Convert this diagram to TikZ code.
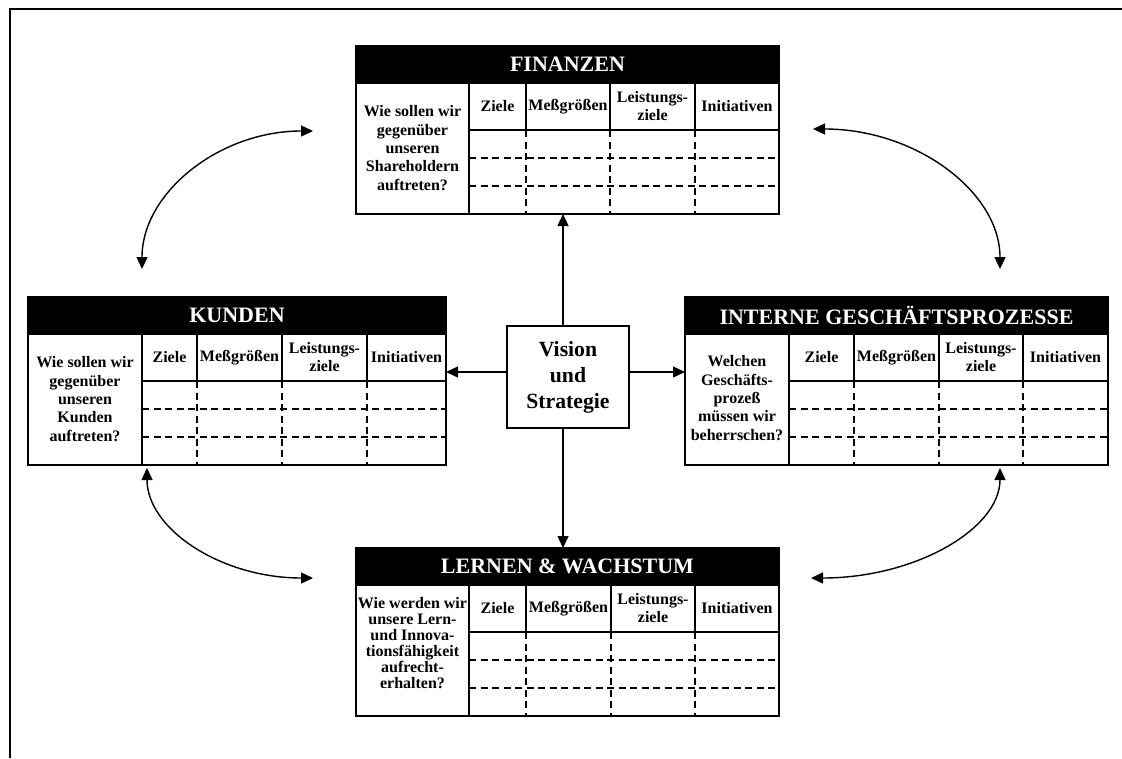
\documentclass[tikz,border=0pt]{standalone}
\usepackage{fontspec}
\setmainfont{Liberation Serif}
\usetikzlibrary{arrows.meta}

\tikzset{
  boxframe/.style={draw, line width=2pt, inner sep=0pt, outer sep=0pt},
  headbox/.style={fill=black, draw=black, line width=2pt, inner sep=0pt, outer sep=0pt,
    text=white, font=\fontsize{22}{24}\selectfont\bfseries},
  cell/.style={line width=1.4pt},
  dcell/.style={line width=1.3pt, dash pattern=on 7pt off 4.5pt},
  colhead/.style={align=center, inner sep=0pt, font=\fontsize{16}{18}\selectfont\bfseries},
  question/.style={align=center, inner sep=0pt, font=\fontsize{16}{18.3}\selectfont\bfseries},
  link/.style={line width=1.4pt, -{Triangle[length=12pt,width=11pt]}},
  swing/.style={line width=1.4pt, {Triangle[length=12pt,width=11pt]}-{Triangle[length=12pt,width=11pt]}},
}

% #1 name, #2 left, #3 top, #4 question column edge,
% #5-#7 column separators, #8 right, #9 title
\newcommand\bscbox[9]{%
  \node[boxframe, minimum width={#8-#2}, minimum height=168, anchor=north west] (#1) at (#2,#3) {};
  \node[headbox, minimum width={#8-#2}, minimum height=37, anchor=north west] (#1-head) at (#2,#3) {#9};
  \draw[cell] (#4,{#3+37}) -- (#4,{#3+168});
  \draw[cell] (#4,{#3+84}) -- (#8,{#3+84});
  \foreach \c in {#5,#6,#7} {
    \draw[cell] (\c,{#3+37}) -- (\c,{#3+84});
    \draw[dcell] (\c,{#3+84}) -- (\c,{#3+168});
  }
  \draw[dcell] (#4,{#3+112}) -- (#8,{#3+112});
  \draw[dcell] (#4,{#3+140}) -- (#8,{#3+140});
  \node[colhead] (#1-ziele) at ({(#4+#5)/2},{#3+60.5}) {Ziele};
  \node[colhead] (#1-mess) at ({(#5+#6)/2},{#3+60.5}) {Meßgrößen};
  \node[colhead] (#1-leist) at ({(#6+#7)/2},{#3+60.5}) {Leistungs-\\ziele};
  \node[colhead] (#1-init) at ({(#7+#8)/2},{#3+60.5}) {Initiativen};
}

\begin{document}
\begin{tikzpicture}[x=1pt, y=-1pt]
  \fill[white] (0,0) rectangle (1122,758);
  \useasboundingbox (0,0) rectangle (1122,758);

  % page frame
  \draw[line width=2pt] (9.5,758) -- (9.5,9) -- (1122,9);

  % the four perspectives
  \bscbox{fin}{356}{46}{469}{526}{610}{695}{779}{FINANZEN}
  \node[question] (fin-q) at (412.5,148) {Wie sollen wir\\gegenüber\\unseren\\Shareholdern\\auftreten?};

  \bscbox{kun}{28}{297}{142}{197}{282}{367}{446}{KUNDEN}
  \node[question] (kun-q) at (85,399) {Wie sollen wir\\gegenüber\\unseren\\Kunden\\auftreten?};

  \bscbox{int}{685}{297}{789}{854}{939}{1023}{1108}{INTERNE GESCHÄFTSPROZESSE}
  \node[question] (int-q) at (737,398) {Welchen\\Geschäfts-\\prozeß\\müssen wir\\beherrschen?};

  \bscbox{ler}{356}{548}{469}{526}{611}{695}{779}{LERNEN \& WACHSTUM}
  \node[question, font=\fontsize{16}{16.1}\selectfont\bfseries] (ler-q) at (412.5,643)
    {Wie werden wir\\unsere Lern-\\und Innova-\\tionsfähigkeit\\aufrecht-\\erhalten?};

  % centre
  \node[boxframe, minimum width=122, minimum height=102, align=center,
        font=\fontsize{21.7}{26}\selectfont\bfseries] (vis) at (568,377) {Vision\\und\\Strategie};

  \coordinate (vx) at (563,0);
  \coordinate (hy) at (0,372);
  \draw[link] (vis.north -| vx) -- (fin.south -| vx);
  \draw[link] (vis.south -| vx) -- (ler.north -| vx);
  \draw[link] (vis.west |- hy) -- (kun.east |- hy);
  \draw[link] (vis.east |- hy) -- (int.west |- hy);

  % curved links between neighbouring perspectives
  \coordinate (tl1) at (142,269);
  \coordinate (tl2) at (313,131);
  \draw[swing] (tl1) .. controls (142,193) and (219,131) .. (tl2);

  \coordinate (tr1) at (813,129);
  \coordinate (tr2) at (1000,269);
  \draw[swing] (tr1) .. controls (916,129) and (1000,192) .. (tr2);

  \coordinate (bl1) at (147,468);
  \coordinate (bl2) at (313,578);
  \draw[swing] (bl1) .. controls (147,529) and (221,578) .. (bl2);

  \coordinate (br1) at (1000,468);
  \coordinate (br2) at (811,578);
  \draw[swing] (br1) .. controls (1000,529) and (915,578) .. (br2);
\end{tikzpicture}
\end{document}
